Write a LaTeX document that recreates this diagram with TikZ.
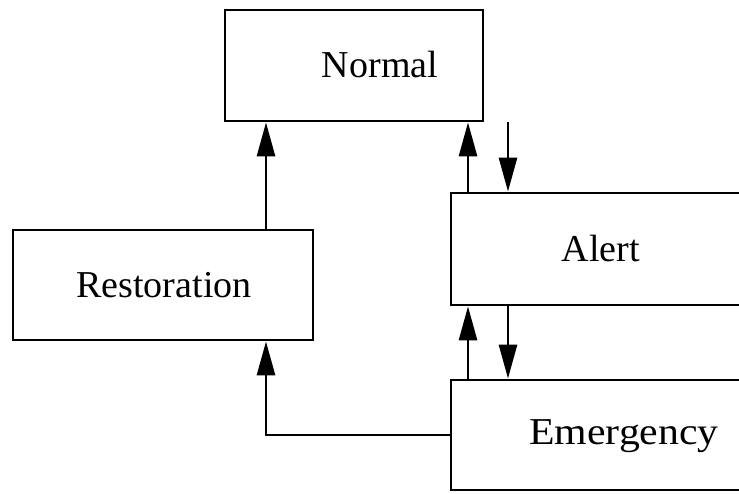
\documentclass[tikz,border=0pt]{standalone}
\usepackage{fontspec}
\setmainfont{Liberation Serif}
\usetikzlibrary{arrows.meta}
\begin{document}
\begin{tikzpicture}[x=1pt,y=-1pt,
  box/.style={draw,line width=2.8pt,rectangle,inner sep=0pt},
  lbl/.style={inner sep=0pt,font=\fontsize{38}{42}\selectfont},
  arr/.style={line width=2.8pt,-{Triangle[length=34pt,width=18pt]}}]
\useasboundingbox (0,0) rectangle (739,494);
\clip (0,0) rectangle (739,494);
\node[box,minimum width=258pt,minimum height=111pt] (normal) at (354,65.5) {};
\node[lbl] (normaltxt) at (380,65) {Normal};
\node[box,minimum width=300pt,minimum height=110pt] (rest) at (163,285) {};
\node[lbl] (resttxt) at (164,285) {Restoration};
\node[box,minimum width=300pt,minimum height=112pt] (alert) at (601,249) {};
\node[lbl] (alerttxt) at (601,249) {Alert};
\node[box,minimum width=346pt,minimum height=110pt] (emer) at (624,435) {};
\node[lbl,xscale=1.1] (emertxt) at (624,436) {Emergency};
\coordinate (xr) at (266,0);
\coordinate (xu) at (468,0);
\coordinate (xd) at (508,0);
\coordinate (ye) at (0,435);
\coordinate (corner) at (266,435);
\draw[arr] (rest.north -| xr) -- (normal.south -| xr);
\draw[arr] (alert.north -| xu) -- (normal.south -| xu);
\draw[arr] (normal.south -| xd) -- (alert.north -| xd);
\draw[arr] (emer.north -| xu) -- (alert.south -| xu);
\draw[arr] (alert.south -| xd) -- (emer.north -| xd);
\draw[arr] (emer.west |- ye) -- (corner) -- (rest.south -| xr);
\end{tikzpicture}
\end{document}
